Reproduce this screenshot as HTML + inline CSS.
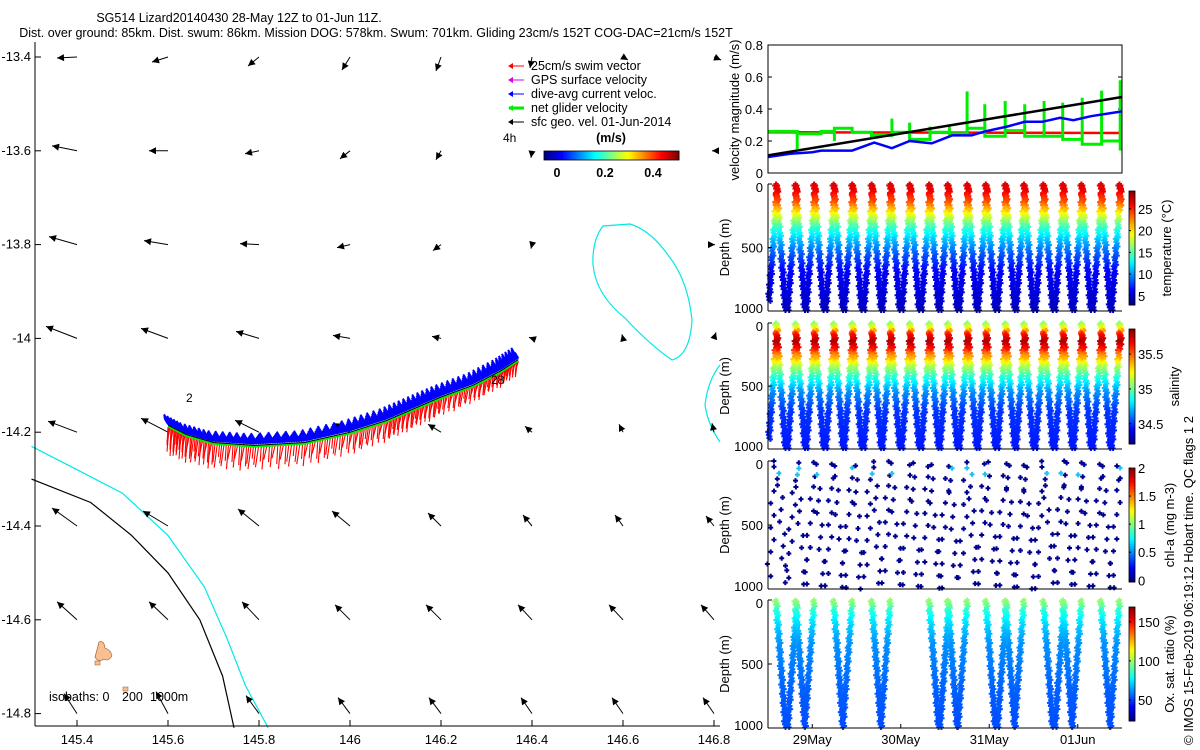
<!DOCTYPE html>
<html><head><meta charset="utf-8"><title>SG514 glider plot</title>
<style>
html,body{margin:0;padding:0;background:#fff;}
svg{display:block;font-family:"Liberation Sans",sans-serif;}
</style></head>
<body>
<svg id="fig" width="1200" height="750" viewBox="0 0 1200 750" xmlns="http://www.w3.org/2000/svg">
<rect width="1200" height="750" fill="#fff"/>
<text x="239" y="22" font-size="12.5" text-anchor="middle">SG514 Lizard20140430 28-May 12Z to 01-Jun 11Z.</text>
<text x="376" y="37" font-size="12.5" text-anchor="middle">Dist. over ground: 85km. Dist. swum: 86km. Mission DOG: 578km. Swum: 701km. Gliding 23cm/s 152T COG-DAC=21cm/s 152T</text>
<g id="map"></g>
<g id="right"></g>
<text transform="translate(1193,745) rotate(-90)" font-size="13">© IMOS 15-Feb-2019 06:19:12 Hobart time. QC flags 1  2</text>
</svg>
<script>
// ---------- DATA ----------
const mapLons=[145.4,145.6,145.8,146.0,146.2,146.4,146.6,146.8];
const mapLats=[-13.4,-13.6,-13.8,-14.0,-14.2,-14.4,-14.6,-14.8];
const arrowU=[
[-20,-16,-11,-8,-5,-2,5,7],
[-25,-19,-14,-10,-5,-1,0,-2],
[-28,-24,-19,-13,-8,-1,0,1],
[-31,-27,-23,-17,-9,-3,-1,2],
[-29,-27,-24,-16,-13,-7,-4,-2],
[-25,-25,-21,-18,-13,-9,-8,-8],
[-20,-19,-17,-15,-15,-14,-14,-13],
[-13,-12,-13,-12,-12,-11,-11,-11]];
const arrowV=[
[1,5,9,13,14,11,3,3],
[-5,0,3,8,9,7,0,0],
[-8,-4,-1,3,6,4,0,0],
[-12,-10,-7,-3,-2,-1,-4,-6],
[-11,-14,-12,-9,-8,-6,-8,-9],
[-18,-15,-17,-15,-13,-11,-11,-10],
[-18,-18,-18,-15,-15,-15,-15,-15],
[-20,-22,-18,-16,-16,-16,-16,-16]];
const trackLon=[145.6,145.64,145.7,145.79,145.9,146.0,146.08,146.14,146.2,146.27,146.33,146.37];
const trackLat=[-14.185,-14.205,-14.222,-14.228,-14.222,-14.2,-14.175,-14.15,-14.125,-14.1,-14.07,-14.045];
const swimLen=[18,24,14,21,27,16,22,19,25,13,20,23,17,26,15];
const iso0Lon=[145.3,145.43,145.52,145.6,145.67,145.72,145.745];
const iso0Lat=[-14.3,-14.35,-14.42,-14.5,-14.6,-14.72,-14.83];
const iso200Lon=[145.3,145.4,145.5,145.6,145.68,145.73,145.77,145.82];
const iso200Lat=[-14.23,-14.28,-14.33,-14.42,-14.53,-14.64,-14.74,-14.83];
// velocity panel
const velT=[0,0.25,0.5,0.6,0.95,1.2,1.4,1.6,1.85,2.08,2.3,2.45,2.7,2.9,3.1,3.3,3.45,3.65,4.0];
const velBlue=[0.10,0.12,0.13,0.14,0.14,0.19,0.155,0.20,0.185,0.235,0.235,0.26,0.29,0.32,0.32,0.345,0.33,0.355,0.385];
const velBlackT=[0,4];
const velBlack=[0.11,0.475];
const velRed=[0.255,0.25];
const greenT=[0,0.33,0.33,0.33,0.6,0.6,0.75,0.75,0.75,0.95,0.95,1.17,1.17,1.17,1.4,1.4,1.4,1.6,1.6,1.6,1.83,1.83,1.83,2.05,2.05,2.05,2.25,2.25,2.25,2.45,2.45,2.45,2.68,2.68,2.68,2.9,2.9,2.9,3.12,3.12,3.12,3.33,3.33,3.33,3.55,3.55,3.55,3.77,3.77,3.77,3.98,3.98,3.98,4.0];
const greenV=[0.26,0.26,0.15,0.245,0.245,0.26,0.26,0.2,0.28,0.28,0.255,0.255,0.21,0.235,0.235,0.34,0.255,0.255,0.315,0.21,0.21,0.29,0.255,0.255,0.3,0.245,0.245,0.51,0.28,0.28,0.43,0.23,0.23,0.45,0.265,0.265,0.43,0.23,0.23,0.45,0.23,0.23,0.44,0.21,0.21,0.47,0.18,0.18,0.515,0.2,0.2,0.58,0.15,0.15];
const velTicks=[0,0.2,0.4,0.6,0.8];
// dives
const diveTops=[0.10,0.32,0.53,0.75,0.96,1.18,1.39,1.61,1.83,2.04,2.26,2.47,2.69,2.90,3.12,3.34,3.55,3.77,3.98];
const profDepth=[0,50,80,150,200,250,300,350,450,550,700,1000];
const profTemp=[26.5,26.5,25.5,23.5,21,18.5,16,14,11,8.5,6,4.5];
const profSal=[35.05,35.3,35.6,35.8,35.65,35.45,35.3,35.1,34.85,34.65,34.5,34.45];
const profOxy=[100,92,84,76,72,68,65,62,60,58,55,52];
const oxyBottoms=[0,1,3,5,8,9,11,12,14,15,17];
const dateLabels=["29May","30May","31May","01Jun"];
const dateTimes=[0.5,1.5,2.5,3.5];
const depthTicks=[0,500,1000];
const tempTicks=[5,10,15,20,25];
const salTicks=[34.5,35,35.5];
const chlTicks=[0,0.5,1,1.5,2];
const oxyTicks=[50,100,150];
const latTicks=[-13.4,-13.6,-13.8,-14,-14.2,-14.4,-14.6,-14.8];
const lonTicks=[145.4,145.6,145.8,146,146.2,146.4,146.6,146.8];

// ---------- HELPERS ----------
const NS="http://www.w3.org/2000/svg";
function mk(tag,attrs,parent){const e=document.createElementNS(NS,tag);for(const k in attrs)e.setAttribute(k,attrs[k]);parent.appendChild(e);return e;}
function jet(v){v=Math.max(0,Math.min(1,v));const c=x=>Math.round(255*Math.max(0,Math.min(1,1.5-Math.abs(x))));return `rgb(${c(4*v-3)},${c(4*v-2)},${c(4*v-1)})`;}
function interp(xs,ys,x){if(x<=xs[0])return ys[0];for(let i=1;i<xs.length;i++){if(x<=xs[i]){const f=(x-xs[i-1])/(xs[i]-xs[i-1]);return ys[i-1]+f*(ys[i]-ys[i-1]);}}return ys[ys.length-1];}
const mx=lon=>77+(lon-145.4)*455;
const my=lat=>57+(-13.4-lat)*469;

// ---------- MAP ----------
const map=document.getElementById('map');
function isoLine(lons,lats,col,name){const p=lons.map((l,i)=>mx(l).toFixed(1)+','+my(lats[i]).toFixed(1)).join(' ');
 const e=mk('polyline',{points:p,fill:'none',stroke:col,'stroke-width':1.2},map);
 
 }
isoLine(iso0Lon,iso0Lat,'#000','isobath-0m');
isoLine(iso200Lon,iso200Lat,'#00e8e8','isobath-200m');
let e=mk('path',{d:'M603,226 Q592,240 593,265 Q596,295 625,318 Q650,345 672,360 Q690,355 692,320 Q688,280 668,255 Q650,230 630,224 Z',fill:'none',stroke:'#00e8e8','stroke-width':1.2},map);


e=mk('path',{d:'M720,365 Q708,380 705,405 Q708,425 720,442',fill:'none',stroke:'#00e8e8','stroke-width':1.2},map);


e=mk('path',{d:'M99,642 Q104,640 105,648 Q111,650 112,656 Q108,662 104,659 Q98,663 95,657 Q97,650 99,642 Z',fill:'#f8c090',stroke:'#a05020','stroke-width':0.6},map);


mk('rect',{x:95,y:661,width:5,height:4,fill:'#f8c090',stroke:'#a05020','stroke-width':0.5},map);
mk('rect',{x:123,y:687,width:5,height:4,fill:'#f8c090',stroke:'#a05020','stroke-width':0.5},map);
// arrows
for(let r=0;r<mapLats.length;r++)for(let c=0;c<mapLons.length;c++){
 const x=mx(mapLons[c]),y=my(mapLats[r]),dx=arrowU[r][c],dy=arrowV[r][c];
 const g=mk('g',{},map);
 
 
 mk('line',{x1:x,y1:y,x2:x+dx,y2:y+dy,stroke:'#000','stroke-width':1},g);
 const L=Math.hypot(dx,dy)||1,ux=dx/L,uy=dy/L,hx=x+dx,hy=y+dy;
 mk('path',{d:`M${hx},${hy} L${hx-ux*7-uy*3.5},${hy-uy*7+ux*3.5} L${hx-ux*7+uy*3.5},${hy-uy*7-ux*3.5} Z`,fill:'#000'},g);
}
// track
const tpts=trackLon.map((l,i)=>[mx(l),my(trackLat[i])]);
function along(f){const n=tpts.length-1,p=f*n,i=Math.min(n-1,Math.floor(p)),t=p-i;return[tpts[i][0]+t*(tpts[i+1][0]-tpts[i][0]),tpts[i][1]+t*(tpts[i+1][1]-tpts[i][1])];}
const swimG=mk('g',{},map);


for(let k=0;k<=200;k++){const [x,y]=along(k/200);const len=swimLen[k%swimLen.length]*(0.55+0.45*(1-k/200));
 mk('line',{x1:x,y1:y+2,x2:x-1-(k%3),y2:y+2+len,stroke:'#f00','stroke-width':1.1},swimG);}
const dacG=mk('g',{},map);


for(let k=0;k<=320;k++){const [x,y]=along(k/320);const l=7+(k%5)*1.5;
 mk('line',{x1:x,y1:y-1,x2:x-l*0.5,y2:y-1-l*0.85,stroke:'#0000ff','stroke-width':2},dacG);}
e=mk('polyline',{points:tpts.map(p=>p[0]+','+(p[1]+1)).join(' '),fill:'none',stroke:'#00ee00','stroke-width':2.5},map);


e=mk('polyline',{points:tpts.map(p=>p[0]+','+p[1]).join(' '),fill:'none',stroke:'#000','stroke-width':1},map);


mk('text',{x:186,y:402,'font-size':12},map).textContent='2';
mk('text',{x:491,y:384,'font-size':12},map).textContent='28';
// axes
mk('line',{x1:35,y1:42,x2:35,y2:726,stroke:'#000','stroke-width':1},map);
mk('line',{x1:35,y1:726,x2:720,y2:726,stroke:'#000','stroke-width':1},map);
latTicks.forEach(v=>{const y=my(v);mk('line',{x1:35,y1:y,x2:41,y2:y,stroke:'#000'},map);
 const t=mk('text',{x:31,y:y+4,'font-size':13,'text-anchor':'end'},map);t.textContent=String(v);
 
 });
lonTicks.forEach(v=>{const x=mx(v);mk('line',{x1:x,y1:726,x2:x,y2:720,stroke:'#000'},map);
 const t=mk('text',{x:x,y:744,'font-size':13,'text-anchor':'middle'},map);t.textContent=String(v);
 
 });
const iso=mk('g',{'font-size':12.5},map);


mk('text',{x:49,y:701},iso).textContent='isobaths: 0';
mk('text',{x:122,y:701},iso).textContent='200';
mk('text',{x:150,y:701},iso).textContent='1000m';
// legend
const legItems=[['25cm/s swim vector','#f00',1],['GPS surface velocity','#e000e0',1],['dive-avg current veloc.','#0000ff',1],['net glider velocity','#00ee00',3],['sfc geo. vel. 01-Jun-2014','#000',1]];
const leg=mk('g',{},map);


legItems.forEach((it,i)=>{const y=66+i*14;const g=mk('g',{},leg);
 
 
 mk('line',{x1:509,y1:y,x2:524,y2:y,stroke:it[1],'stroke-width':it[2]},g);
 mk('path',{d:`M508,${y} l5,-3 l0,6 z`,fill:it[1]},g);
 mk('text',{x:531,y:y+4,'font-size':12.5},g).textContent=it[0];});
mk('text',{x:503,y:142,'font-size':12},leg).textContent='4h';
mk('text',{x:611,y:142,'font-size':12.5,'font-weight':'bold','text-anchor':'middle'},leg).textContent='(m/s)';
for(let i=0;i<64;i++)mk('rect',{x:544+i*135/64,y:151,width:135/64+0.5,height:9,fill:jet(i/63)},leg);
mk('rect',{x:544,y:151,width:135,height:9,fill:'none',stroke:'#000','stroke-width':0.8},leg);
[[0,557],[0.2,605],[0.4,653]].forEach(a=>{mk('text',{x:a[1],y:177,'font-size':12.5,'font-weight':'bold','text-anchor':'middle'},leg).textContent=String(a[0]);});

// ---------- RIGHT PANELS ----------
const R=document.getElementById('right');
const X0=768,X1=1122;
const xt=t=>X0+t*88.5;
function frame(name){const g=mk('g',{},R);
 
 
 return g;}
function axesBox(g,top,bot,full){
 if(full)mk('rect',{x:X0,y:top,width:X1-X0,height:bot-top,fill:'none',stroke:'#000'},g);
 else{mk('line',{x1:X0,y1:top,x2:X0,y2:bot,stroke:'#000'},g);mk('line',{x1:X0,y1:bot,x2:X1,y2:bot,stroke:'#000'},g);}
}
// velocity
const gv=frame('velocity-panel');
const vy=v=>173-v*160;
velTicks.forEach(v=>{mk('line',{x1:X0,y1:vy(v),x2:X0+4,y2:vy(v),stroke:'#000'},gv);mk('line',{x1:X1,y1:vy(v),x2:X1-4,y2:vy(v),stroke:'#000'},gv);
 mk('text',{x:763,y:vy(v)+5,'font-size':13,'text-anchor':'end'},gv).textContent=String(v);});
function vline(ts,vs,col,w,name){const e=mk('polyline',{points:ts.map((t,i)=>xt(t).toFixed(1)+','+vy(vs[i]).toFixed(1)).join(' '),fill:'none',stroke:col,'stroke-width':w},gv);
 
 }
vline(velBlackT,velRed,'#f00',2.5,'swim-speed-line');
vline(greenT,greenV,'#00ee00',3,'net-velocity-line');
vline(velT,velBlue,'#0000ff',2.5,'dac-speed-line');
vline(velBlackT,velBlack,'#000',2.5,'sfc-velocity-line');
axesBox(gv,45,173,true);
mk('text',{transform:'translate(739,110) rotate(-90)','font-size':13,'text-anchor':'middle'},gv).textContent='velocity magnitude (m/s)';

// dive panels
function depthPanel(top,bot,name,colorFn,mode,cb){
 const g=frame(name);
 const dy=d=>top+Math.min(1000,d)/1000*(bot-top);
 const h=0.1078;
 const mkr=(x,y,col)=>{mk('path',{d:`M${(x-2.5).toFixed(1)},${y.toFixed(1)}h5M${x.toFixed(1)},${(y-2.5).toFixed(1)}v5`,stroke:col,'stroke-width':2},g);};
 const step=mode==='chl'?95:24;
 diveTops.forEach((tt,k)=>{
  const limbs=[];
  if(mode==='oxy'){ if(oxyBottoms.includes(k))limbs.push([tt,tt+h]); if(oxyBottoms.includes(k-1))limbs.push([tt,tt-h]); }
  else {limbs.push([tt,tt+h]);limbs.push([tt,tt-h]);}
  limbs.forEach((lb,li)=>{
   for(let d=(mode==='chl'?(li*45+k*13)%60:0);d<=1000;d+=step){
    const t=lb[0]+(lb[1]-lb[0])*d/1000;
    if(t<0||t>4)continue;
    const wob=(mode==='chl')?((k*7+d)%11-5)*0.6:((d/24)%3-1)*0.8;
    const x=xt(t)+wob,y=dy(d);
    const col=colorFn(d);
    mkr(x,y,col);
    if(mode!=='chl'&&d<1000)mkr(x+(li?1.5:-1.5),dy(d+12),colorFn(d+12));
   }
  });
 });
 axesBox(g,top,bot,false);
 depthTicks.forEach(v=>{const y=dy(v);mk('line',{x1:X0,y1:y,x2:X0+4,y2:y,stroke:'#000'},g);
  mk('text',{x:763,y:y+(v===0?8:v===1000?2:5),'font-size':13,'text-anchor':'end'},g).textContent=String(v);});
 mk('text',{transform:`translate(729,${(top+bot)/2}) rotate(-90)`,'font-size':13,'text-anchor':'middle'},g).textContent='Depth (m)';
 const cg=mk('g',{},g);
 
 
 const n=48,ch=(cb.bot-cb.top)/n;
 for(let i=0;i<n;i++)mk('rect',{x:1129,y:cb.top+i*ch,width:6,height:ch+0.4,fill:jet(1-(i+0.5)/n)},cg);
 mk('rect',{x:1129,y:cb.top,width:6,height:cb.bot-cb.top,fill:'none',stroke:'#000','stroke-width':0.8},cg);
 cb.ticks.forEach(v=>{const y=cb.bot-(v-cb.min)/(cb.max-cb.min)*(cb.bot-cb.top);
  mk('line',{x1:1129,y1:y,x2:1131,y2:y,stroke:'#000'},cg);
  mk('text',{x:1138,y:y+5,'font-size':13},cg).textContent=String(v);});
 mk('text',{transform:`translate(${cb.lx},${(cb.top+cb.bot)/2}) rotate(-90)`,'font-size':13,'text-anchor':'middle'},cg).textContent=cb.label;
 return g;
}
depthPanel(184,311,'temperature-panel',d=>jet((interp(profDepth,profTemp,d)-2.9)/26.2),'full',{top:191,bot:305,min:2.9,max:29.1,ticks:tempTicks,label:'temperature (°C)',lx:1171});
depthPanel(323,449,'salinity-panel',d=>jet((interp(profDepth,profSal,d)-34.21)/1.65),'full',{top:329,bot:444,min:34.21,max:35.86,ticks:salTicks,label:'salinity',lx:1179});
depthPanel(461,589,'chl-panel',d=>(d>50&&d<110)?'#20c0f0':'#00008f','chl',{top:468,bot:582,min:-0.03,max:2,ticks:chlTicks,label:'chl-a (mg m-3)',lx:1174});
depthPanel(600,728,'oxygen-panel',d=>jet((interp(profDepth,profOxy,d)-23)/146),'oxy',{top:607,bot:721,min:23,max:169,ticks:oxyTicks,label:'Ox. sat. ratio (%)',lx:1174});
dateTimes.forEach((t,i)=>{const x=xt(t);mk('line',{x1:x,y1:728,x2:x,y2:724,stroke:'#000'},R);
 const tx=mk('text',{x:x,y:744,'font-size':13,'text-anchor':'middle'},R);tx.textContent=dateLabels[i];
 
 });
</script>
</body></html>
